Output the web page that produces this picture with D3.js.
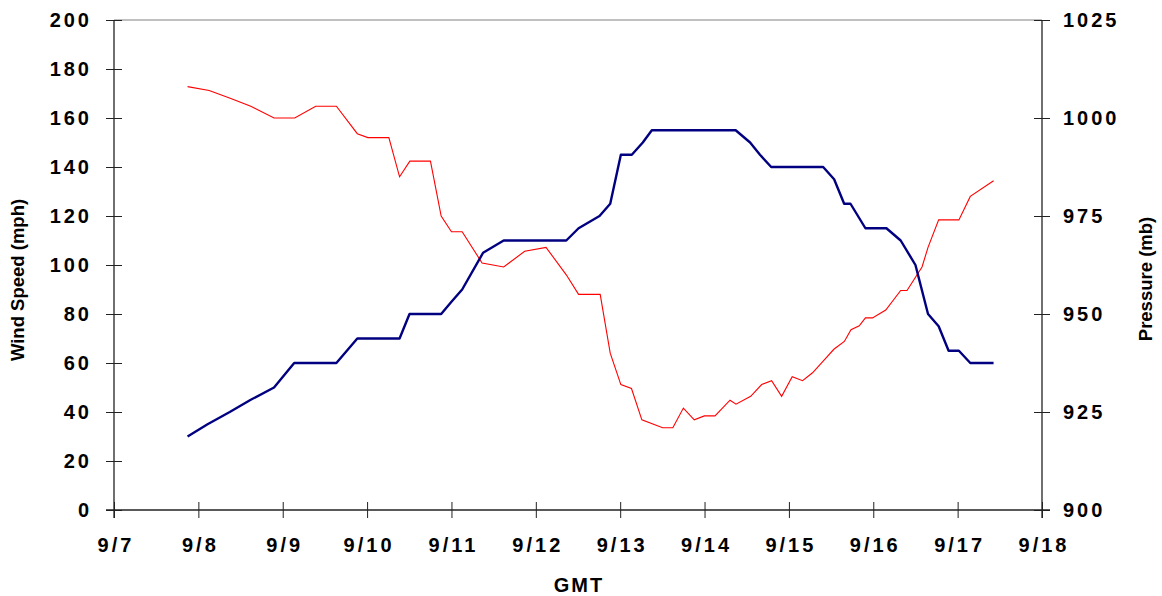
<!DOCTYPE html>
<html>
<head>
<meta charset="utf-8">
<script src="https://cdn.jsdelivr.net/npm/d3@7"></script>
<style>
  html, body { margin: 0; padding: 0; background: #fff; }
  svg { display: block; }
  .tick text { font-family: "Liberation Sans", Arial, sans-serif; font-weight: bold; font-size: 20px; letter-spacing: 3px; fill: #000; }
  .title { font-family: "Liberation Sans", Arial, sans-serif; font-weight: bold; font-size: 18.5px; fill: #000; }
  .xtitle { font-family: "Liberation Sans", Arial, sans-serif; font-weight: bold; font-size: 20px; letter-spacing: 2px; fill: #000; }
</style>
</head>
<body>
<svg id="chart" width="1162" height="596"></svg>
<script>
// ---- Data (day of September, GMT) ----
const windDays = [7.872, 8.109, 8.372, 8.621, 8.897, 9.136, 9.636, 9.884, 10.385, 10.503, 10.878, 11.0, 11.127,
  11.375, 11.619, 12.361, 12.507, 12.755, 12.882, 13.008, 13.138, 13.268, 13.375, 14.369, 14.54, 14.657,
  14.79, 15.406, 15.536, 15.655, 15.73, 15.907, 16.156, 16.325, 16.5, 16.649, 16.775, 16.893, 17.015,
  17.15, 17.426];
const windSpeed = [30, 35, 40, 45, 50, 60, 60, 70, 70, 80, 80, 85, 90,
  105, 110, 110, 115, 120, 125, 145, 145, 150, 155, 155, 150, 145,
  140, 140, 135, 125, 125, 115, 115, 110, 100, 80, 75, 65, 65,
  60, 60];

const presDays = [7.872, 8.128, 8.385, 8.621, 8.897, 9.142, 9.391, 9.636, 9.884, 10.009, 10.258, 10.385,
  10.507, 10.751, 10.878, 11.0, 11.127, 11.363, 11.619, 11.868, 12.121, 12.361, 12.507, 12.763, 12.882,
  13.008, 13.134, 13.257, 13.503, 13.624, 13.749, 13.878, 13.998, 14.124, 14.302, 14.373, 14.547, 14.677,
  14.795, 14.914, 15.039, 15.162, 15.280, 15.406, 15.533, 15.657, 15.736, 15.834, 15.907, 15.991, 16.148,
  16.325, 16.400, 16.578, 16.649, 16.775, 17.015, 17.150, 17.426];
const pressure = [1008, 1007, 1005, 1003, 1000, 1000, 1003, 1003, 996, 995, 995, 985,
  989, 989, 975, 971, 971, 963, 962, 966, 967, 960, 955, 955, 940,
  932, 931, 923, 921, 921, 926, 923, 924, 924, 928, 927, 929, 932,
  933, 929, 934, 933, 935, 938, 941, 943, 946, 947, 949, 949, 951,
  956, 956, 962, 967, 974, 974, 980, 984];

const xTickDays = [7, 8, 9, 10, 11, 12, 13, 14, 15, 16, 17, 18];
const xTickLabels = ["9/7", "9/8", "9/9", "9/10", "9/11", "9/12", "9/13", "9/14", "9/15", "9/16", "9/17", "9/18"];
const windTicks = [0, 20, 40, 60, 80, 100, 120, 140, 160, 180, 200];
const presTicks = [900, 925, 950, 975, 1000, 1025];

// ---- Layout ----
const L = 114, R = 1042, T = 20, B = 510;
const svg = d3.select("#chart");

const x = d3.scaleLinear().domain([7, 18]).range([L, R]);
const yW = d3.scaleLinear().domain([0, 200]).range([B, T]);
const yP = d3.scaleLinear().domain([900, 1025]).range([B, T]);

// top border
svg.append("line").attr("x1", L).attr("x2", R).attr("y1", T).attr("y2", T)
  .attr("stroke", "#808080").attr("stroke-width", 1);

// axes
const axisColor = "#222";
const gx = svg.append("g").attr("transform", `translate(0,${B})`)
  .call(d3.axisBottom(x).tickValues(xTickDays).tickFormat((d, i) => xTickLabels[i]).tickSize(8).tickPadding(20));
gx.selectAll(".tick line").attr("y1", -8).attr("y2", 8);
gx.selectAll(".tick text").attr("dy", "0.71em").attr("dx", "1.5px");

const gl = svg.append("g").attr("transform", `translate(${L},0)`)
  .call(d3.axisLeft(yW).tickValues(windTicks).tickFormat(d3.format("d")).tickSize(8).tickPadding(14));
gl.selectAll(".tick line").attr("x1", -8).attr("x2", 8);

const gr = svg.append("g").attr("transform", `translate(${R},0)`)
  .call(d3.axisRight(yP).tickValues(presTicks).tickFormat(d3.format("d")).tickSize(8).tickPadding(13));
gr.selectAll(".tick line").attr("x1", -8).attr("x2", 8);

svg.selectAll(".tick line").attr("stroke", axisColor).attr("stroke-width", 1);
[gx, gl, gr].forEach(g => g.select(".domain").remove());
// axis lines
svg.append("line").attr("x1", L - 8).attr("x2", R + 8).attr("y1", B).attr("y2", B).attr("stroke", axisColor).attr("stroke-width", 1.3);
svg.append("line").attr("x1", L).attr("x2", L).attr("y1", T).attr("y2", B + 8).attr("stroke", axisColor).attr("stroke-width", 1.3);
svg.append("line").attr("x1", R).attr("x2", R).attr("y1", T).attr("y2", B + 8).attr("stroke", axisColor).attr("stroke-width", 1.3);

// lines
const windLine = d3.line().x((d, i) => x(windDays[i])).y(d => yW(d));
const presLine = d3.line().x((d, i) => x(presDays[i])).y(d => yP(d));

svg.append("path").datum(pressure).attr("d", presLine)
  .attr("fill", "none").attr("stroke", "#ff0000").attr("stroke-width", 1.1);
svg.append("path").datum(windSpeed).attr("d", windLine)
  .attr("fill", "none").attr("stroke", "#000080").attr("stroke-width", 2.4).attr("stroke-linejoin", "round");

// titles
svg.append("text").attr("class", "title").attr("text-anchor", "middle")
  .attr("transform", `translate(24,280) rotate(-90)`).text("Wind Speed (mph)");
svg.append("text").attr("class", "title").attr("text-anchor", "middle")
  .attr("transform", `translate(1152,279) rotate(-90)`).text("Pressure (mb)");
svg.append("text").attr("class", "xtitle").attr("text-anchor", "middle")
  .attr("x", (L + R) / 2 + 1).attr("y", 592).text("GMT");
</script>
</body>
</html>
